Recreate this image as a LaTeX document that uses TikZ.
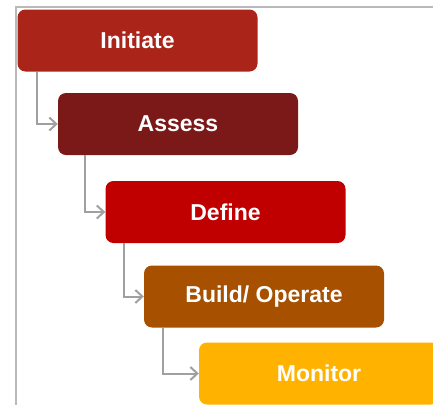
\documentclass[tikz,border=0pt]{standalone}
\usepackage{fontspec}
\setmainfont{Liberation Sans}
\usetikzlibrary{arrows.meta}

\definecolor{framegray}{RGB}{185,185,185}
\definecolor{flowgray}{RGB}{160,160,160}
\definecolor{initiatered}{RGB}{170,36,26}
\definecolor{assessred}{RGB}{123,24,24}
\definecolor{definered}{RGB}{192,0,0}
\definecolor{buildbrown}{RGB}{166,80,0}
\definecolor{monitoryellow}{RGB}{255,179,0}

\begin{document}
\begin{tikzpicture}[x=1pt,y=-1pt,
    flow/.style={draw=flowgray, line width=2pt, -{Straight Barb[length=7pt,width=13pt]}}]

        \useasboundingbox (0,0) rectangle (433,405);
        \draw[framegray, line width=2.2pt] (433,7) -- (16,7) -- (16,405);

        \begin{scope}[every node/.style={rounded corners=8pt, minimum width=240pt, minimum height=62pt, text=white, font=\bfseries\fontsize{23}{23}\selectfont}]
          \node[fill=initiatered]   (initiate) at (137.5,40.5) {Initiate};
          \node[fill=assessred]     (assess)   at (178,124)    {Assess};
          \node[fill=definered]     (define)   at (225.5,212)  {Define};
          \node[fill=buildbrown]    (build)    at (264,296.5)  {Build/ Operate};
          \node[fill=monitoryellow] (monitor)  at (319,373.5)  {Monitor};
        \end{scope}

        \draw[flow] ([xshift=20pt]initiate.south west) |- (assess);
        \draw[flow] ([xshift=27pt]assess.south west)   |- (define);
        \draw[flow] ([xshift=19pt]define.south west)   |- (build);
        \draw[flow] ([xshift=19pt]build.south west)    |- (monitor);

      \end{tikzpicture}
\end{document}
